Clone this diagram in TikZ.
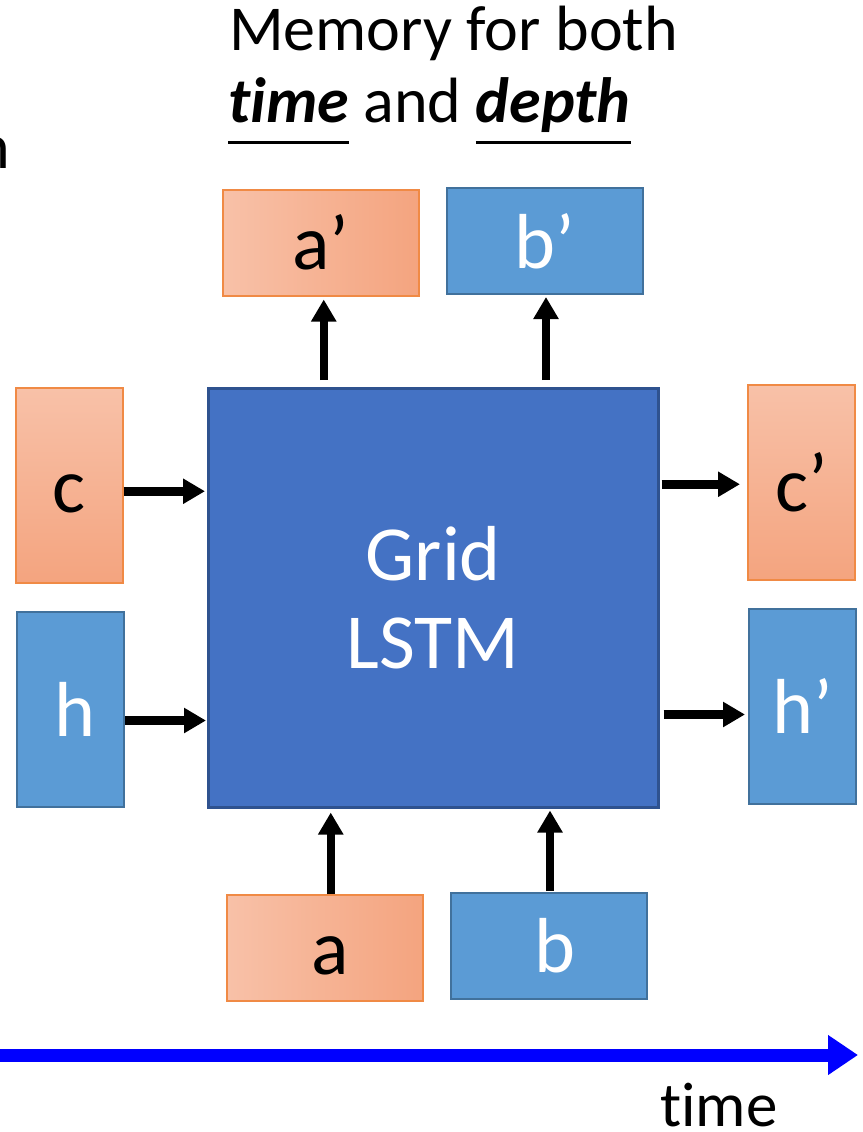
\documentclass[tikz,border=0pt]{standalone}
\usepackage{fontspec}
\setmainfont{Carlito}[Ligatures=NoCommon]
\usepackage{xcolor}
\usetikzlibrary{positioning,arrows.meta,calc}

\definecolor{lstmblue}{HTML}{4472C4}
\definecolor{lstmline}{HTML}{2F528F}
\definecolor{cellblue}{HTML}{5B9BD5}
\definecolor{cellline}{HTML}{41719C}
\definecolor{peachlight}{HTML}{F8C1A8}
\definecolor{peachdark}{HTML}{F4A47F}
\definecolor{peachline}{HTML}{F08A45}
\definecolor{timeblue}{HTML}{0000FF}

\newcommand{\ulword}[1]{\setbox0=\hbox{#1}\rlap{\rule[-22pt]{\wd0}{3.5pt}}\box0\relax}

\begin{document}
\begin{tikzpicture}[
    x=1pt, y=-1pt,
    lbl/.style={font=\fontsize{78}{88}\selectfont, inner sep=0pt,
                execute at begin node=\vphantom{b}},
    peachh/.style={lbl, draw=peachline, line width=1.5pt, left color=peachlight,
                   right color=peachdark, text=black},
    peachv/.style={lbl, draw=peachline, line width=1.5pt, top color=peachlight,
                   bottom color=peachdark, text=black},
    cell/.style={lbl, draw=cellline, fill=cellblue, line width=2pt, text=white},
    wide/.style={minimum width=196pt, minimum height=106pt, anchor=north west},
    tall/.style={minimum width=107pt, minimum height=195pt, anchor=north west},
    arr/.style={-{Triangle[length=22pt,width=24pt]}, line width=8.5pt},
    timearr/.style={-{Triangle[length=30pt,width=38pt]}, line width=13pt, draw=timeblue},
    caption/.style={anchor=base west, inner sep=0pt, font=\fontsize{64}{72}\selectfont},
  ]
  \useasboundingbox (0,0) rectangle (862,1132);

  % Title
  \node[caption, anchor=base east] (cut) at (10,168) {n};
  \node[caption] (title1) at (229,51) {Memory for both};
  \node[caption] (title2) at (228,122)
    {\ulword{\textbf{\textit{time}}} and \ulword{\textbf{\textit{depth}}}};

  % Grid LSTM cell
  \node[draw=lstmline, fill=lstmblue, line width=2.5pt, text=white, anchor=north west,
        minimum width=450pt, minimum height=419pt, align=center,
        font=\fontsize{78}{88}\selectfont] (main) at (207,387) {Grid\\LSTM};

  % Outputs (depth)
  \node[peachh, wide] (ap) at (222,189) {a’};
  \node[cell, wide]   (bp) at (446,187) {b’};
  % Inputs (time)
  \node[peachv, tall] (c) at (15,387) {c};
  \node[cell, tall]   (h) at (16,611) {\hspace{8pt}h};
  % Outputs (time)
  \node[peachv, tall] (cp) at (747,384) {c\raisebox{4pt}{’}};
  \node[cell, tall]   (hp) at (748,608) {h’};
  % Inputs (depth)
  \node[peachh, wide] (a) at (226,894) {\hspace{10pt}a};
  \node[cell, wide]   (b) at (450,892) {\hspace{12pt}b};

  \draw[arr] ($(main.north -| ap.south)+(3,-7)$) -- ($(ap.south)+(3,3)$);
  \draw[arr] ($(main.north -| bp.south)+(1,-7)$) -- ($(bp.south)+(1,2)$);
  \draw[arr] ($(c.east)+(0,6)$)  -- ($(main.west |- c.east)+(-2,6)$);
  \draw[arr] ($(h.east)+(0,11)$) -- ($(main.west |- h.east)+(-1,11)$);
  \draw[arr] ($(main.east |- cp.west)+(2,2)$) -- ($(cp.west)+(-7,2)$);
  \draw[arr] ($(main.east |- hp.west)+(4,8)$) -- ($(hp.west)+(-3,8)$);
  \draw[arr] ($(a.north)+(6,0)$) -- ($(main.south -| a.north)+(6,4)$);
  \draw[arr] ($(b.north)+(1,-1)$) -- ($(main.south -| b.north)+(1,2)$);

  % Time axis
  \coordinate (tstart) at (-5,1055);
  \coordinate (tend) at (858,1055);
  \draw[timearr] (tstart) -- (tend);
  \node[caption, font=\fontsize{63}{70}\selectfont] (timelbl) at (660,1126) {time};
\end{tikzpicture}
\end{document}
